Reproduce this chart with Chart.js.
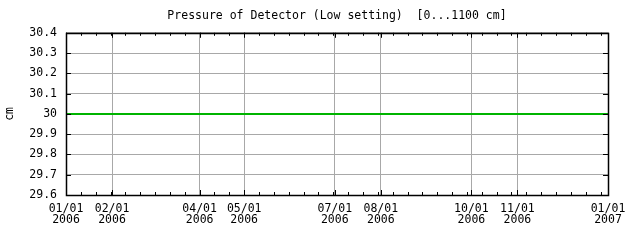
<!DOCTYPE html>
<html>
<head>
<meta charset="utf-8">
<script src="https://cdn.jsdelivr.net/npm/chart.js@4/dist/chart.umd.min.js"></script>
<style>
html,body{margin:0;padding:0;background:#fff;}
#wrap{width:640px;height:240px;position:relative;}
</style>
</head>
<body>
<div id="wrap"><canvas id="c" width="640" height="240"></canvas></div>
<script>
// Days since 2006-01-01
const sampleDays = [0, 31, 59, 90, 120, 151, 181, 212, 243, 273, 304, 334, 365];
const pressureValues = [30, 30, 30, 30, 30, 30, 30, 30, 30, 30, 30, 30, 30];
const xTickDays = [0, 31, 90, 120, 181, 212, 273, 304, 365];
const xTickLabels = [["01/01","2006"],["02/01","2006"],["04/01","2006"],["05/01","2006"],["07/01","2006"],["08/01","2006"],["10/01","2006"],["11/01","2006"],["01/01","2007"]];
const yTicks = [29.6, 29.7, 29.8, 29.9, 30, 30.1, 30.2, 30.3, 30.4];
const minorTickStepDays = 10;
const titleText = "Pressure of Detector (Low setting)  [0...1100 cm]";
const yAxisTitle = "cm";

const FONT = "'DejaVu Sans Mono', 'Liberation Mono', monospace";
const FS = 11.5;

const frame = {
  id: 'frame',
  afterDraw(chart) {
    const ctx = chart.ctx;
    const a = chart.chartArea;
    const xs = chart.scales.x, ys = chart.scales.y;
    ctx.save();
    ctx.strokeStyle = '#000';
    ctx.lineWidth = 1;
    ctx.beginPath();
    for (let d = 0; d <= 365; d += minorTickStepDays) {
      const px = Math.round(xs.getPixelForValue(d)) + 0.5;
      ctx.moveTo(px, a.bottom); ctx.lineTo(px, a.bottom - 3);
      ctx.moveTo(px, a.top); ctx.lineTo(px, a.top + 3);
    }
    xTickDays.forEach(d => {
      const px = Math.round(xs.getPixelForValue(d)) + 0.5;
      ctx.moveTo(px, a.bottom); ctx.lineTo(px, a.bottom - 5);
      ctx.moveTo(px, a.top); ctx.lineTo(px, a.top + 5);
    });
    yTicks.forEach(v => {
      const py = Math.round(ys.getPixelForValue(v)) + 0.5;
      ctx.moveTo(a.left, py); ctx.lineTo(a.left + 5, py);
      ctx.moveTo(a.right, py); ctx.lineTo(a.right - 5, py);
    });
    ctx.stroke();
    ctx.lineWidth = 1.5;
    ctx.strokeRect(Math.round(a.left) + 0.5, Math.round(a.top) + 0.5, Math.round(a.right - a.left), Math.round(a.bottom - a.top));
    ctx.restore();
  }
};

new Chart(document.getElementById('c'), {
  type: 'line',
  data: {
    datasets: [{
      data: sampleDays.map((d, i) => ({x: d, y: pressureValues[i]})),
      borderColor: '#00b400',
      borderWidth: 2,
      pointRadius: 0,
      tension: 0,
      fill: false
    }]
  },
  options: {
    responsive: false,
    animation: false,
    devicePixelRatio: 1,
    layout: {padding: {left: 0, right: 32, top: 0, bottom: 0}},
    plugins: {
      legend: {display: false},
      tooltip: {enabled: false},
      title: {
        display: true,
        fullSize: false,
        text: titleText,
        color: '#000',
        font: {family: FONT, size: FS, weight: 'normal', lineHeight: 1.2},
        padding: {top: 9, bottom: 10}
      }
    },
    scales: {
      x: {
        type: 'linear',
        min: 0, max: 365,
        afterBuildTicks(scale) { scale.ticks = xTickDays.map(v => ({value: v})); },
        afterFit(scale) { scale.height = 45; },
        ticks: {
          autoSkip: false,
          maxRotation: 0,
          padding: 8,
          color: '#000',
          font: {family: FONT, size: FS, lineHeight: 0.96},
          callback(v) { const i = xTickDays.indexOf(v); return i >= 0 ? xTickLabels[i] : ''; }
        },
        grid: {color: '#a8a8a8', lineWidth: 1, drawTicks: false},
        border: {display: false}
      },
      y: {
        min: 29.6, max: 30.4,
        afterBuildTicks(scale) { scale.ticks = yTicks.map(v => ({value: v})); },
        afterFit(scale) { scale.width = 66; },
        ticks: {
          padding: 9,
          color: '#000',
          font: {family: FONT, size: FS},
          callback(v) { return String(Math.round(v * 10) / 10); }
        },
        grid: {color: '#a8a8a8', lineWidth: 1, drawTicks: false},
        border: {display: false},
        title: {display: true, text: yAxisTitle, color: '#000', font: {family: FONT, size: FS}, padding: {top: 3, bottom: 0}}
      }
    }
  },
  plugins: [frame]
});
</script>
</body>
</html>
